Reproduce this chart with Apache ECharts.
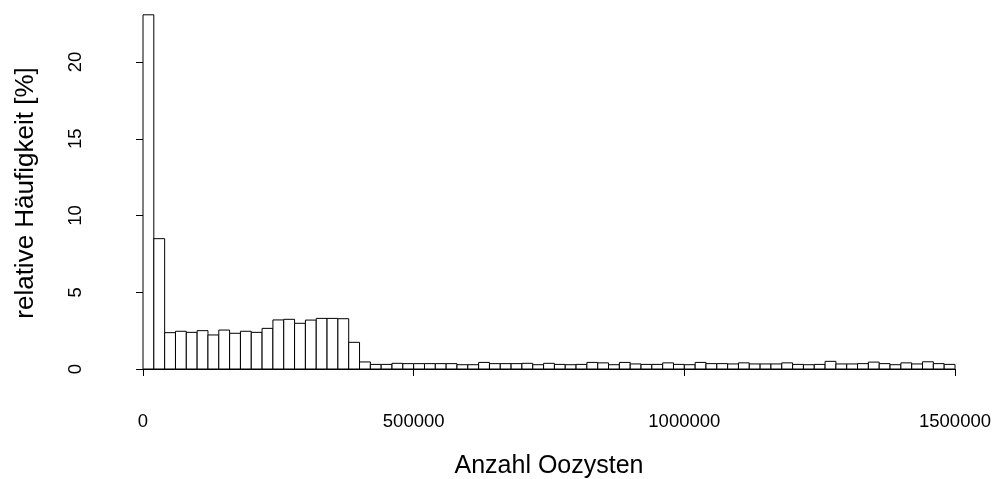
<!DOCTYPE html>
<html>
<head>
<meta charset="utf-8">
<script src="https://cdn.jsdelivr.net/npm/echarts@6/dist/echarts.min.js"></script>
<style>html,body{margin:0;padding:0;background:#fff}#c{width:997px;height:479px}</style>
</head>
<body>
<div id="c"></div>
<script>
// Histogram of "Anzahl Oozysten", bins of 20000 from 0 to 1500000
const binWidth = 20000;
const relFreq = [
  23.1, 8.5, 2.37, 2.46, 2.39, 2.50, 2.22, 2.54, 2.33, 2.46,
  2.39, 2.65, 3.20, 3.24, 2.98, 3.19, 3.30, 3.30, 3.28, 1.74,
  0.46, 0.30, 0.30, 0.37, 0.35, 0.35, 0.35, 0.35, 0.35, 0.28,
  0.28, 0.43, 0.35, 0.35, 0.35, 0.37, 0.28, 0.37, 0.30, 0.28,
  0.30, 0.43, 0.40, 0.28, 0.43, 0.33, 0.30, 0.30, 0.40, 0.30,
  0.28, 0.43, 0.35, 0.35, 0.33, 0.40, 0.33, 0.33, 0.33, 0.40,
  0.30, 0.28, 0.30, 0.50, 0.33, 0.33, 0.35, 0.45, 0.35, 0.28,
  0.40, 0.33, 0.47, 0.35, 0.30
];
const xTicks = [0, 500000, 1000000, 1500000];
const yTicks = [0, 5, 10, 15, 20];
const xTitle = 'Anzahl Oozysten';
const yTitle = 'relative Häufigkeit [%]';

const histData = relFreq.map((v, i) => [i * binWidth, (i + 1) * binWidth, v]);

const font = 'Liberation Sans, Arial, Helvetica, sans-serif';
const chart = echarts.init(document.getElementById('c'), null, {renderer: 'canvas'});
chart.setOption({
  animation: false,
  backgroundColor: '#fff',
  grid: [
    {left: 143, right: 42, top: 1, bottom: 110, containLabel: false, outerBoundsMode: 'none'},
    {left: 143, right: 42, top: 62, bottom: 110, containLabel: false, outerBoundsMode: 'none'}
  ],
  xAxis: [
    {
      gridIndex: 0, type: 'value', min: xTicks[0], max: xTicks[xTicks.length - 1],
      interval: 500000, offset: 15,
      axisLine: {show: true, lineStyle: {color: '#000', width: 1}},
      axisTick: {show: true, inside: false, length: 7, lineStyle: {color: '#000'}},
      axisLabel: {show: true, color: '#000', fontFamily: font, fontSize: 18.5, margin: 28,
        formatter: v => String(v)},
      splitLine: {show: false},
      name: xTitle, nameLocation: 'middle', nameGap: 70,
      nameTextStyle: {color: '#000', fontFamily: font, fontSize: 25}
    },
    {gridIndex: 1, type: 'value', min: 0, max: 1500000, show: false}
  ],
  yAxis: [
    {
      gridIndex: 0, type: 'value', min: 0, max: 24,
      axisLine: {show: false}, axisTick: {show: false}, axisLabel: {show: false},
      splitLine: {show: false},
      name: yTitle, nameLocation: 'middle', nameGap: 104, nameRotate: 90,
      nameTextStyle: {color: '#000', fontFamily: font, fontSize: 26, padding: [0, 16, 0, 0]}
    },
    {
      gridIndex: 1, type: 'value', min: yTicks[0], max: yTicks[yTicks.length - 1],
      interval: 5, offset: 34,
      axisLine: {show: true, lineStyle: {color: '#000', width: 1}},
      axisTick: {show: true, inside: false, length: 7, lineStyle: {color: '#000'}},
      axisLabel: {show: true, color: '#000', fontFamily: font, fontSize: 18.5, rotate: 90, margin: 24},
      splitLine: {show: false}
    }
  ],
  series: [{
    type: 'custom',
    xAxisIndex: 0, yAxisIndex: 0,
    data: histData,
    encode: {x: [0, 1], y: 2},
    renderItem: function (params, api) {
      const p0 = api.coord([api.value(0), 0]);
      const p1 = api.coord([api.value(1), api.value(2)]);
      return {
        type: 'rect',
        shape: {x: p0[0], y: p1[1], width: p1[0] - p0[0], height: p0[1] - p1[1]},
        style: {fill: '#fff', stroke: '#000', lineWidth: 1}
      };
    }
  }]
});
</script>
</body>
</html>
